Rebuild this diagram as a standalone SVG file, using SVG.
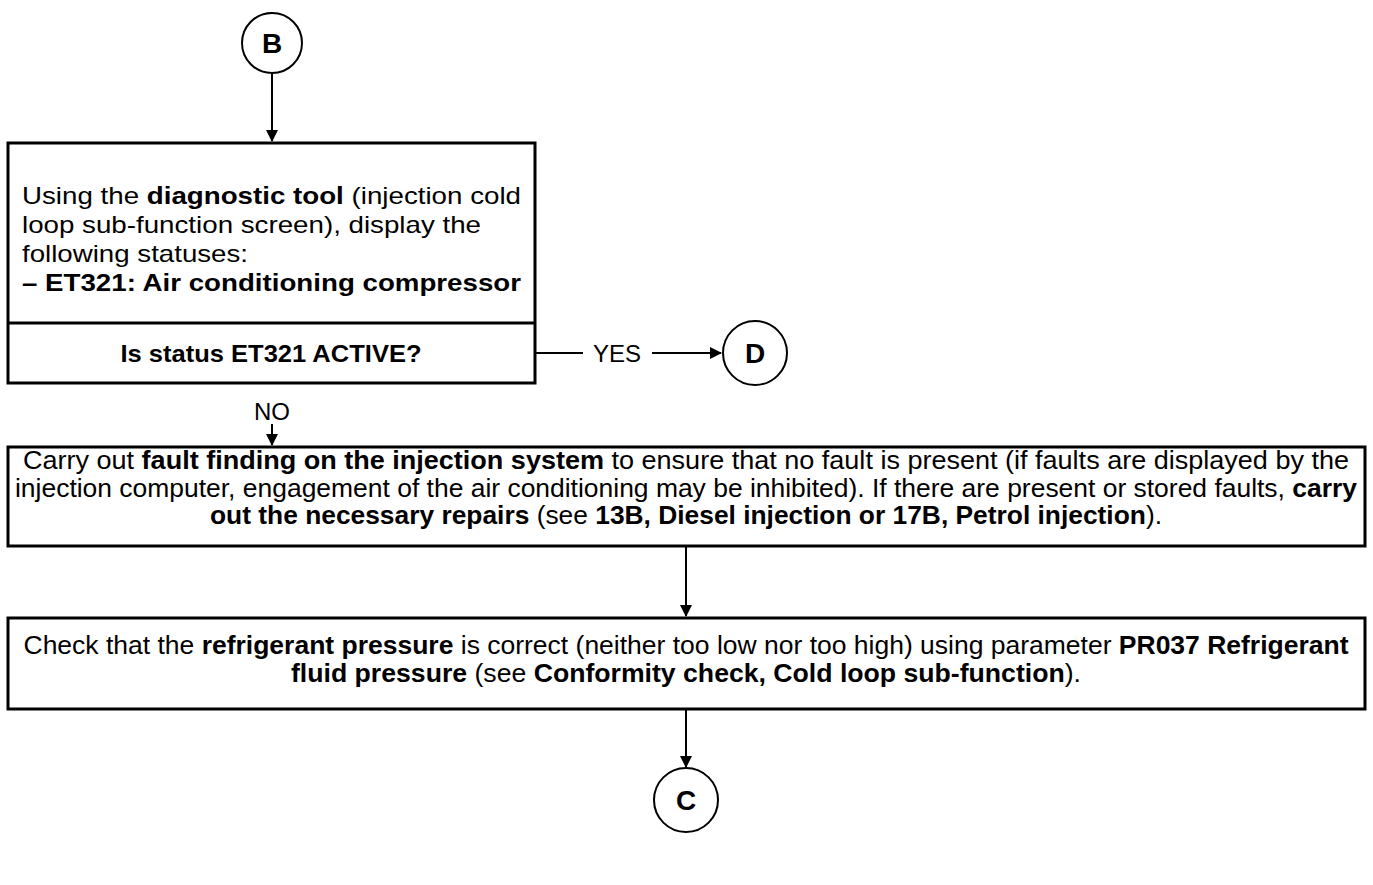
<svg xmlns="http://www.w3.org/2000/svg" width="1373" height="885" viewBox="0 0 1373 885">
<style>
.box{fill:#fff;stroke:#000;stroke-width:3}
.circ{fill:#fff;stroke:#000;stroke-width:2}
.ln{fill:none;stroke:#000;stroke-width:2}
text{font-family:"Liberation Sans",Arial,sans-serif;font-size:24px;fill:#000}
.t2{font-size:25px}
.s{font-size:24px}
.b{font-weight:bold}
.lbl{font-size:28px;font-weight:bold}
.c{text-anchor:middle}
</style>
<defs>
<marker id="ar" markerWidth="12" markerHeight="12" refX="11" refY="6" orient="auto" markerUnits="userSpaceOnUse" viewBox="0 0 12 12">
<path d="M0,0 L12,6 L0,12 z" fill="#000"/>
</marker>
</defs>
<g id="connectors">
<line class="ln" x1="272" y1="73" x2="272" y2="141" marker-end="url(#ar)"/>
<line class="ln" x1="535" y1="353" x2="583" y2="353"/>
<line class="ln" x1="652" y1="353" x2="721" y2="353" marker-end="url(#ar)"/>
<line class="ln" x1="272" y1="424" x2="272" y2="445" marker-end="url(#ar)"/>
<line class="ln" x1="686" y1="546" x2="686" y2="616" marker-end="url(#ar)"/>
<line class="ln" x1="686" y1="709" x2="686" y2="767" marker-end="url(#ar)"/>
<text x="617" y="362" class="c s">YES</text>
<text x="272" y="420" class="c s">NO</text>
</g>
<g id="nodeB">
<circle class="circ" cx="272" cy="43" r="30"/>
<text x="272" y="53" class="c lbl">B</text>
</g>
<g id="step1">
<rect class="box" x="8" y="143" width="527" height="240"/>
<line class="ln" x1="8" y1="323" x2="535" y2="323" style="stroke-width:3"/>
<text x="22" y="204" textLength="499" lengthAdjust="spacingAndGlyphs">Using the <tspan class="b">diagnostic tool</tspan> (injection cold</text>
<text x="22" y="233" textLength="459" lengthAdjust="spacingAndGlyphs">loop sub-function screen), display the</text>
<text x="22" y="262" textLength="226" lengthAdjust="spacingAndGlyphs">following statuses:</text>
<text x="22" y="291" class="b" textLength="499" lengthAdjust="spacingAndGlyphs">– ET321: Air conditioning compressor</text>
<text x="271" y="362" class="c b" textLength="301" lengthAdjust="spacingAndGlyphs">Is status ET321 ACTIVE?</text>
</g>
<g id="nodeD">
<circle class="circ" cx="755" cy="353" r="32"/>
<text x="755" y="363" class="c lbl">D</text>
</g>
<g id="step2">
<rect class="box" x="8" y="447" width="1357" height="99"/>
<text x="686" y="469" class="c t2" textLength="1326" lengthAdjust="spacingAndGlyphs">Carry out <tspan class="b">fault finding on the injection system</tspan> to ensure that no fault is present (if faults are displayed by the</text>
<text x="686" y="497" class="c t2" textLength="1342" lengthAdjust="spacingAndGlyphs">injection computer, engagement of the air conditioning may be inhibited). If there are present or stored faults, <tspan class="b">carry</tspan></text>
<text x="686" y="524" class="c t2" textLength="952" lengthAdjust="spacingAndGlyphs"><tspan class="b">out the necessary repairs</tspan> (see <tspan class="b">13B, Diesel injection or 17B, Petrol injection</tspan>).</text>
</g>
<g id="step3">
<rect class="box" x="8" y="618" width="1357" height="91"/>
<text x="686" y="654" class="c t2" textLength="1325" lengthAdjust="spacingAndGlyphs">Check that the <tspan class="b">refrigerant pressure</tspan> is correct (neither too low nor too high) using parameter <tspan class="b">PR037 Refrigerant</tspan></text>
<text x="686" y="682" class="c t2" textLength="790" lengthAdjust="spacingAndGlyphs"><tspan class="b">fluid pressure</tspan> (see <tspan class="b">Conformity check, Cold loop sub-function</tspan>).</text>
</g>
<g id="nodeC">
<circle class="circ" cx="686" cy="800" r="32"/>
<text x="686" y="810" class="c lbl">C</text>
</g>
</svg>
